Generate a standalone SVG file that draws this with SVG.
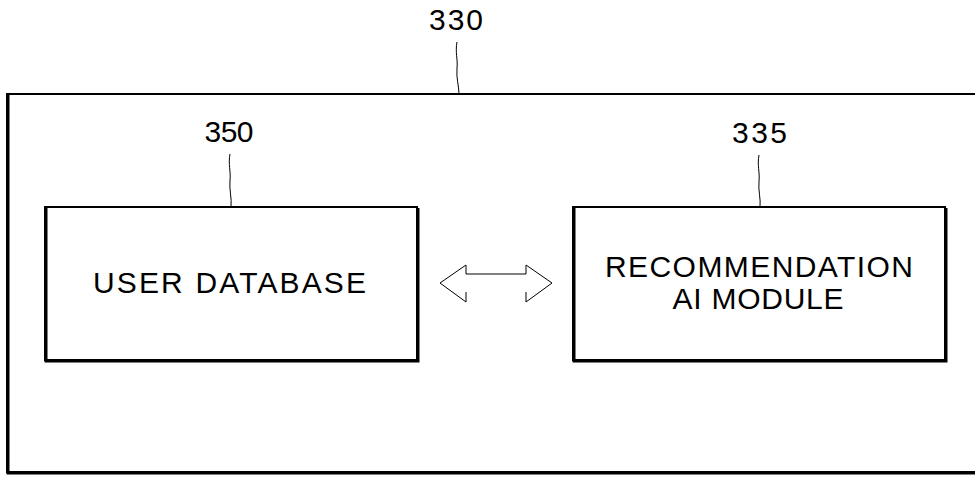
<svg xmlns="http://www.w3.org/2000/svg" width="975" height="478" viewBox="0 0 975 478">
<style>
.box{fill:none;stroke:#000;stroke-width:2}
.shadow{fill:none;stroke:#000;stroke-width:3}
.lbl{font-family:"Liberation Sans",Arial,sans-serif;font-size:30px;fill:#000;text-anchor:middle}
.ref{font-family:"Liberation Sans",Arial,sans-serif;font-size:30px;fill:#000;text-anchor:middle}
.lead{fill:none;stroke:#000;stroke-width:1}
</style>
<rect width="975" height="478" fill="#fff"/>
<g id="n330">
<path class="box" d="M975,94 H7 V472 H975"/>
<path class="shadow" d="M8,95 V473 H975"/>
<text class="ref" x="456" y="30" textLength="54" lengthAdjust="spacing">330</text>
<path class="lead" d="M457,42 C455,52 458,60 457,68 C456,78 459,86 459,94"/>
</g>
<g id="n350">
<rect class="box" x="45" y="207" width="372" height="153"/>
<path class="shadow" d="M46,208 V361 H418 V208"/>
<text class="lbl" x="229.5" y="293" textLength="273" lengthAdjust="spacing">USER DATABASE</text>
<text class="ref" x="229" y="142" textLength="49" lengthAdjust="spacing">350</text>
<path class="lead" d="M230,154 C228,164 231,172 230,180 C229,190 232,198 231,207"/>
</g>
<g id="n335">
<rect class="box" x="573" y="207" width="372" height="153"/>
<path class="shadow" d="M574,208 V361 H946 V208"/>
<text class="lbl" x="759" y="277" textLength="308" lengthAdjust="spacing">RECOMMENDATION</text>
<text class="lbl" x="758" y="309" textLength="171" lengthAdjust="spacing">AI MODULE</text>
<text class="ref" x="759.5" y="143" textLength="55" lengthAdjust="spacing">335</text>
<path class="lead" d="M759,155 C757,165 760,173 759,181 C758,191 761,199 760,207"/>
</g>
<g id="connectors">
<path class="lead" d="M466,274 V265 L440,283 L466,302 V292 M466,274 H526 M526,274 V265 L552,283 L526,302 V292"/>
</g>
</svg>
